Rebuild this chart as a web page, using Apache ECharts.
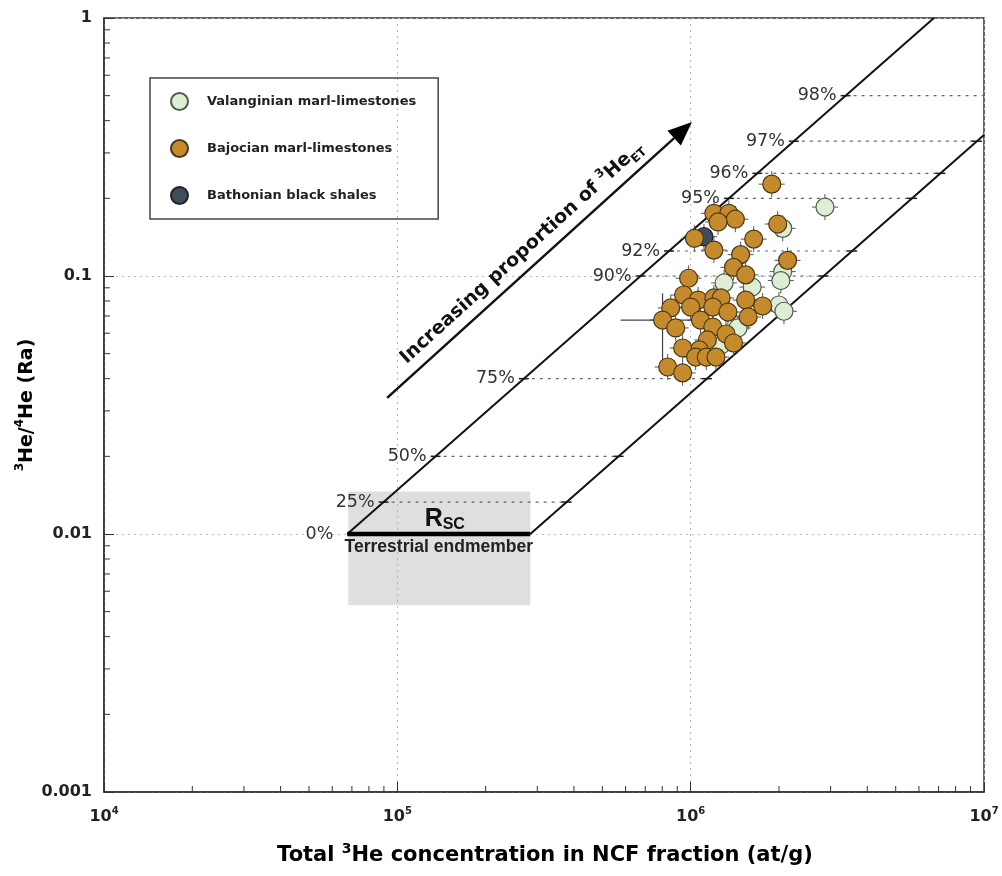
<!DOCTYPE html>
<html>
<head>
<meta charset="utf-8">
<script src="https://cdn.jsdelivr.net/npm/echarts@6/dist/echarts.min.js"></script>
<style>
  html, body { margin: 0; padding: 0; background: #fff; }
  #chart { width: 1002px; height: 876px; }
</style>
</head>
<body>
<div id="chart"></div>
<script>
// Total 3He in the non-carbonate fraction (at/g) and 3He/4He (Ra) per sample
const valanginian = [
  [2.87e6, 0.185], [2.06e6, 0.153], [2.06e6, 0.104], [2.03e6, 0.096],
  [1.30e6, 0.094], [1.62e6, 0.0906], [2.00e6, 0.0772], [2.08e6, 0.073],
  [1.45e6, 0.0629], [1.27e6, 0.054]
];
const bajocian = [
  [1.89e6, 0.227], [1.20e6, 0.175], [1.35e6, 0.175], [1.42e6, 0.166],
  [1.24e6, 0.162], [1.98e6, 0.159], [1.03e6, 0.140], [1.64e6, 0.139],
  [1.20e6, 0.126], [1.48e6, 0.121], [2.14e6, 0.115], [1.40e6, 0.108],
  [1.54e6, 0.101], [9.84e5, 0.098], [9.46e5, 0.0844], [1.06e6, 0.0807],
  [1.20e6, 0.0822], [1.27e6, 0.0822], [1.54e6, 0.0807], [1.76e6, 0.0765],
  [8.55e5, 0.0752], [1.00e6, 0.0758], [1.19e6, 0.0758], [1.34e6, 0.0725],
  [1.57e6, 0.0694], [8.02e5, 0.0675], [1.08e6, 0.0675], [8.89e5, 0.0629],
  [1.19e6, 0.0634], [1.32e6, 0.0596], [1.40e6, 0.0550], [1.14e6, 0.0565],
  [1.07e6, 0.0517], [9.39e5, 0.0526], [1.04e6, 0.0485], [1.13e6, 0.0485],
  [1.22e6, 0.0485], [8.35e5, 0.0444], [9.39e5, 0.0421]
];
const bathonian = [[1.11e6, 0.142]];

// sample with a wide uncertainty: [x, y, xLow, xHigh, yLow, yHigh]
const wideErrorSample = [[8.02e5, 0.0675, 5.77e5, 1.03e6, 0.0472, 0.0857]];

// mixing lines between the terrestrial endmember and extraterrestrial 3He
const upperLine = [[6.75e4, 0.01], [6.75e6, 1]];
const lowerLine = [[2.84e5, 0.01], [1e7, 0.352]];

// proportion of extraterrestrial 3He along the mixing lines
const pctLabels = ['0%', '25%', '50%', '75%', '90%', '92%', '95%', '96%', '97%', '98%'];
const pctRatios = [0.01, 0.0133, 0.02, 0.04, 0.1, 0.125, 0.2, 0.25, 0.333, 0.5];

// terrestrial endmember (Rsc) range and the trend arrow
const terrestrialBox = [[6.8e4, 0.0053, 2.84e5, 0.0146]];
const terrestrialBar = [[6.75e4, 0.01, 2.84e5]];
const trendArrow = [[9.23e4, 0.0337, 1.01e6, 0.395]];

// axis ranges and minor ticks
const xRange = [1e4, 1e7];
const yRange = [0.001, 1];
const xMinor = [2e4, 3e4, 4e4, 5e4, 6e4, 7e4, 8e4, 9e4,
                2e5, 3e5, 4e5, 5e5, 6e5, 7e5, 8e5, 9e5,
                2e6, 3e6, 4e6, 5e6, 6e6, 7e6, 8e6, 9e6];
const yMinor = [0.002, 0.003, 0.004, 0.005, 0.006, 0.007, 0.008, 0.009,
                0.02, 0.03, 0.04, 0.05, 0.06, 0.07, 0.08, 0.09,
                0.2, 0.3, 0.4, 0.5, 0.6, 0.7, 0.8, 0.9];

const WIDE = '"DejaVu Sans", sans-serif';
const NARROW = '"Liberation Sans", Arial, sans-serif';
const INK = '#222';

// x on a straight log-log line at a given y
function xOnLine(line, y) {
  const [[x0, y0], [x1, y1]] = line;
  const t = (Math.log10(y) - Math.log10(y0)) / (Math.log10(y1) - Math.log10(y0));
  return Math.pow(10, Math.log10(x0) + t * (Math.log10(x1) - Math.log10(x0)));
}

const pctData = pctRatios.map((r, i) => [xOnLine(upperLine, r), r, xOnLine(lowerLine, r), i]);
const allPoints = valanginian.concat(bathonian, bajocian);

const chart = echarts.init(document.getElementById('chart'));

const option = {
  animation: false,
  backgroundColor: '#fff',
  grid: { left: 104, right: 18, top: 18, bottom: 84, show: true, borderColor: '#333', borderWidth: 1.5 },
  legend: {
    data: ['Valanginian marl-limestones', 'Bajocian marl-limestones', 'Bathonian black shales'],
    orient: 'vertical', left: 150, top: 78,
    padding: [14, 22, 14, 20], itemGap: 28, itemWidth: 17, itemHeight: 17,
    borderColor: '#444', borderWidth: 1.5, icon: 'circle',
    textStyle: { fontFamily: WIDE, fontWeight: 'bold', fontSize: 13, color: INK, padding: [0, 0, 0, 14] }
  },
  xAxis: {
    type: 'log', logBase: 10, min: xRange[0], max: xRange[1],
    axisLine: { show: true, lineStyle: { color: '#333', width: 1.5 } },
    axisTick: { show: true, inside: true, length: 10, lineStyle: { color: '#333', width: 1 } },
    splitLine: { show: true, lineStyle: { color: '#bbb', type: [2, 4], width: 1 } },
    axisLabel: {
      margin: 14,
      formatter: v => '{b|10}{s|' + Math.round(Math.log10(v)) + '}',
      rich: {
        b: { fontFamily: WIDE, fontWeight: 'bold', fontSize: 16, color: INK, lineHeight: 22 },
        s: { fontFamily: WIDE, fontWeight: 'bold', fontSize: 10, color: INK, lineHeight: 12, verticalAlign: 'top' }
      }
    }
  },
  yAxis: {
    type: 'log', logBase: 10, min: yRange[0], max: yRange[1],
    axisLine: { show: true, lineStyle: { color: '#333', width: 1.5 } },
    axisTick: { show: true, inside: true, length: 10, lineStyle: { color: '#333', width: 1 } },
    splitLine: { show: true, lineStyle: { color: '#bbb', type: [2, 4], width: 1 } },
    axisLabel: {
      margin: 12, fontFamily: WIDE, fontWeight: 'bold', fontSize: 16, color: INK,
      formatter: v => { const e = Math.round(Math.log10(v)); return Math.pow(10, e).toFixed(Math.max(0, -e)); }
    }
  },
  graphic: [
    {
      type: 'text', x: 545, y: 856,
      style: {
        text: '{n|Total }{s|3}{n|He concentration in NCF fraction (at/g)}',
        align: 'center', verticalAlign: 'middle',
        rich: {
          n: { fontFamily: WIDE, fontWeight: 'bold', fontSize: 21, color: INK, lineHeight: 28 },
          s: { fontFamily: WIDE, fontWeight: 'bold', fontSize: 14, color: INK, lineHeight: 16, verticalAlign: 'top' }
        }
      }
    },
    {
      type: 'text', x: 27, y: 405, rotation: Math.PI / 2,
      style: {
        text: '{s|3}{n|He/}{s|4}{n|He (Ra)}',
        align: 'center', verticalAlign: 'middle',
        rich: {
          n: { fontFamily: WIDE, fontWeight: 'bold', fontSize: 19, color: INK, lineHeight: 26 },
          s: { fontFamily: WIDE, fontWeight: 'bold', fontSize: 12, color: INK, lineHeight: 14, verticalAlign: 'top' }
        }
      }
    }
  ],
  series: [
    // Rsc field
    {
      type: 'custom', name: 'terrestrial range', z: 1, silent: true,
      encode: { x: [0, 2], y: [1, 3] },
      data: terrestrialBox,
      renderItem: (params, api) => {
        const a = api.coord([api.value(0), api.value(1)]);
        const b = api.coord([api.value(2), api.value(3)]);
        return {
          type: 'rect',
          shape: { x: a[0], y: b[1], width: b[0] - a[0], height: a[1] - b[1] },
          style: { fill: 'rgba(170,170,170,0.38)' }
        };
      }
    },
    // minor ticks along the bottom axis
    {
      type: 'custom', name: 'x minor', z: 3, silent: true,
      data: xMinor.map(v => [v, yRange[0]]),
      renderItem: (params, api) => {
        const p = api.coord([api.value(0), api.value(1)]);
        return { type: 'line', shape: { x1: p[0], y1: p[1], x2: p[0], y2: p[1] - 6 }, style: { stroke: '#333', lineWidth: 1 } };
      }
    },
    // minor ticks along the left axis
    {
      type: 'custom', name: 'y minor', z: 3, silent: true,
      data: yMinor.map(v => [xRange[0], v]),
      renderItem: (params, api) => {
        const p = api.coord([api.value(0), api.value(1)]);
        return { type: 'line', shape: { x1: p[0], y1: p[1], x2: p[0] + 6, y2: p[1] }, style: { stroke: '#333', lineWidth: 1 } };
      }
    },
    // percentage guides between the two mixing lines
    {
      type: 'custom', name: 'percent guides', z: 2, silent: true,
      encode: { x: [0, 2], y: 1 },
      data: pctData,
      renderItem: (params, api) => {
        const r = api.value(1);
        const i = api.value(3);
        const p0 = api.coord([api.value(0), r]);
        const p1 = api.coord([Math.min(api.value(2), xRange[1]), r]);
        const children = [];
        if (i > 0) {
          children.push({ type: 'line', shape: { x1: p0[0], y1: p0[1], x2: p1[0], y2: p1[1] },
                          style: { stroke: '#666', lineWidth: 1.2, lineDash: [3, 5] } });
          children.push({ type: 'line', shape: { x1: p0[0] - 5, y1: p0[1], x2: p0[0] + 5, y2: p0[1] },
                          style: { stroke: '#222', lineWidth: 1.5 } });
          if (api.value(2) < xRange[1]) {
            children.push({ type: 'line', shape: { x1: p1[0] - 5, y1: p1[1], x2: p1[0] + 5, y2: p1[1] },
                            style: { stroke: '#222', lineWidth: 1.5 } });
          }
        }
        children.push({
          type: 'text', x: p0[0] - (i === 0 ? 14 : 9), y: p0[1],
          style: { text: pctLabels[i], align: 'right', verticalAlign: 'middle',
                   fontFamily: WIDE, fontSize: 17.5, fill: '#333' }
        });
        return { type: 'group', children };
      }
    },
    {
      type: 'line', name: 'upper mixing', z: 3, silent: true, symbol: 'none',
      data: upperLine, lineStyle: { color: '#111', width: 2 }
    },
    {
      type: 'line', name: 'lower mixing', z: 3, silent: true, symbol: 'none',
      data: lowerLine, lineStyle: { color: '#111', width: 2 }
    },
    // terrestrial endmember bar and labels
    {
      type: 'custom', name: 'terrestrial endmember', z: 4, silent: true,
      encode: { x: [0, 2], y: 1 },
      data: terrestrialBar,
      renderItem: (params, api) => {
        const a = api.coord([api.value(0), api.value(1)]);
        const b = api.coord([api.value(2), api.value(1)]);
        const cx = (a[0] + b[0]) / 2 + 4;
        return {
          type: 'group', children: [
            { type: 'line', shape: { x1: a[0], y1: a[1], x2: b[0], y2: b[1] }, style: { stroke: '#000', lineWidth: 4.5 } },
            { type: 'text', x: cx + 2, y: a[1] - 15,
              style: { text: '{r|R}{s|SC}', align: 'center', verticalAlign: 'middle',
                       rich: { r: { fontFamily: NARROW, fontWeight: 'bold', fontSize: 25, fill: '#111', lineHeight: 28 },
                               s: { fontFamily: NARROW, fontWeight: 'bold', fontSize: 16, fill: '#111', lineHeight: 16, verticalAlign: 'bottom' } } } },
            { type: 'text', x: cx - 4, y: a[1] + 13,
              style: { text: 'Terrestrial endmember', align: 'center', verticalAlign: 'middle',
                       fontFamily: NARROW, fontWeight: 'bold', fontSize: 17.5, fill: '#222' } }
          ]
        };
      }
    },
    // trend arrow with its caption
    {
      type: 'custom', name: 'trend arrow', z: 4, silent: true,
      encode: { x: [0, 2], y: [1, 3] },
      data: trendArrow,
      renderItem: (params, api) => {
        const a = api.coord([api.value(0), api.value(1)]);
        const b = api.coord([api.value(2), api.value(3)]);
        const ang = Math.atan2(b[1] - a[1], b[0] - a[0]);
        const dx = Math.cos(ang), dy = Math.sin(ang);
        const nx = dy, ny = -dx;
        const head = 24, half = 10;
        const base = [b[0] - dx * head, b[1] - dy * head];
        const t = 0.48;
        const mx = a[0] + (b[0] - a[0]) * t + nx * 17;
        const my = a[1] + (b[1] - a[1]) * t + ny * 17;
        return {
          type: 'group', children: [
            { type: 'line', shape: { x1: a[0], y1: a[1], x2: base[0], y2: base[1] }, style: { stroke: '#111', lineWidth: 2.5 } },
            { type: 'polygon', shape: { points: [b, [base[0] + nx * half, base[1] + ny * half], [base[0] - nx * half, base[1] - ny * half]] },
              style: { fill: '#000' } },
            { type: 'text', x: mx, y: my, rotation: -ang,
              style: { text: '{n|Increasing proportion of }{s|3}{n|He}{b|ET}', align: 'center', verticalAlign: 'middle',
                       rich: { n: { fontFamily: WIDE, fontWeight: 'bold', fontSize: 19, fill: '#111', lineHeight: 25 },
                               s: { fontFamily: WIDE, fontWeight: 'bold', fontSize: 12, fill: '#111', lineHeight: 14, verticalAlign: 'top' },
                               b: { fontFamily: WIDE, fontWeight: 'bold', fontSize: 12, fill: '#111', lineHeight: 14, verticalAlign: 'bottom' } } } }
          ]
        };
      }
    },
    // uncertainty whiskers
    {
      type: 'custom', name: 'whiskers', z: 5, silent: true,
      data: allPoints,
      renderItem: (params, api) => {
        const p = api.coord([api.value(0), api.value(1)]);
        const L = 13;
        return {
          type: 'group', children: [
            { type: 'line', shape: { x1: p[0] - L, y1: p[1], x2: p[0] + L, y2: p[1] }, style: { stroke: '#555', lineWidth: 1 } },
            { type: 'line', shape: { x1: p[0], y1: p[1] - L, x2: p[0], y2: p[1] + L }, style: { stroke: '#555', lineWidth: 1 } }
          ]
        };
      }
    },
    {
      type: 'custom', name: 'wide error', z: 5, silent: true,
      encode: { x: [0, 2, 3], y: [1, 4, 5] },
      data: wideErrorSample,
      renderItem: (params, api) => {
        const c = api.coord([api.value(0), api.value(1)]);
        const xl = api.coord([api.value(2), api.value(1)]);
        const xh = api.coord([api.value(3), api.value(1)]);
        const yl = api.coord([api.value(0), api.value(4)]);
        const yh = api.coord([api.value(0), api.value(5)]);
        return {
          type: 'group', children: [
            { type: 'line', shape: { x1: xl[0], y1: c[1], x2: xh[0], y2: c[1] }, style: { stroke: '#444', lineWidth: 1.2 } },
            { type: 'line', shape: { x1: c[0], y1: yl[1], x2: c[0], y2: yh[1] }, style: { stroke: '#444', lineWidth: 1.2 } }
          ]
        };
      }
    },
    {
      type: 'scatter', name: 'Valanginian marl-limestones', z: 6, symbolSize: 18, data: valanginian,
      itemStyle: { color: '#ddeed5', borderColor: '#4e5e4e', borderWidth: 1.2, opacity: 1 }
    },
    {
      type: 'scatter', name: 'Bathonian black shales', z: 6, symbolSize: 18, data: bathonian,
      itemStyle: { color: '#3e4c5c', borderColor: '#222', borderWidth: 1.2, opacity: 1 }
    },
    {
      type: 'scatter', name: 'Bajocian marl-limestones', z: 7, symbolSize: 18, data: bajocian,
      itemStyle: { color: '#c48a2c', borderColor: '#4a3816', borderWidth: 1.2, opacity: 1 }
    }
  ]
};

chart.setOption(option);
</script>
</body>
</html>
